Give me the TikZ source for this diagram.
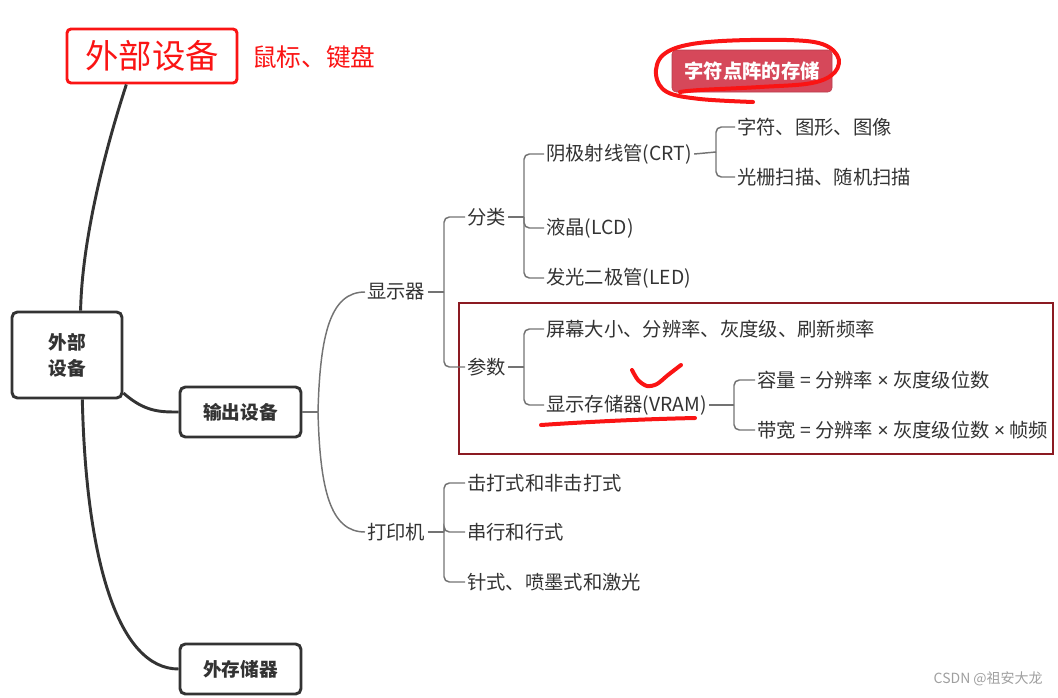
\documentclass[tikz,border=0pt]{standalone}
\usepackage{fontspec}
\setmainfont{Noto Sans CJK SC}
\newfontfamily\latinfont{Noto Sans}
\usepackage{xcolor}
\usepackage{tikz}

\definecolor{inkgray}{RGB}{51,51,51}
\definecolor{linegray}{RGB}{115,115,115}
\definecolor{penred}{RGB}{250,20,20}
\definecolor{framered}{RGB}{139,26,34}
\definecolor{tagred}{RGB}{214,72,90}

\newcommand{\ttimes}{{\latinfont\bfseries ×}}

\tikzset{
  topic/.style={draw=inkgray, line width=2.2pt, rounded corners=4pt, fill=white, text=inkgray,
    font=\fontsize{14}{19.5}\selectfont\bfseries},
  item/.style={anchor=west, inner sep=1.5pt, text=inkgray, font=\fontsize{14.5}{17}\selectfont},
  mainline/.style={draw=inkgray, line width=2.2pt},
  thinline/.style={draw=linegray, line width=1.1pt, rounded corners=4pt},
  pen/.style={draw=penred, line width=3pt, line cap=round, line join=round},
}

\begin{document}
\begin{tikzpicture}[x=0.75pt, y=-0.75pt]
\useasboundingbox (0,0) rectangle (1058,697);

% Title
\node[draw=penred, line width=2.2pt, rounded corners=3pt, minimum width=127.5pt, minimum height=40.5pt,
  text=penred, font=\fontsize{25}{30}\selectfont] (title) at (152,56) {外部设备};
\node[anchor=west, inner sep=0pt, text=penred, font=\fontsize{18.5}{22}\selectfont] (mouse) at (252,57) {鼠标、键盘};

% Tag
\node[fill=tagred, draw=tagred!85!black, rounded corners=3pt, minimum width=120pt, minimum height=31.5pt,
  text=white, font=\fontsize{14.5}{17}\selectfont\bfseries] (tag) at (752,71) {字符点阵的存储};

% Main topics
\node[topic, minimum width=82.5pt, minimum height=64.5pt, align=center] (hub) at (67,355) {外部\\设备};
\node[topic, minimum width=90.75pt, minimum height=37.5pt] (output) at (240.5,412) {输出设备};
\node[topic, minimum width=90.75pt, minimum height=37.5pt] (storage) at (240.5,669) {外存储器};

% Display
\node[item] (display) at (365,292) {显示器};
\node[item] (classify) at (465,217) {分类};
\node[item] (crt) at (544,154) {阴极射线管(CRT)};
\node[item] (lcd) at (544,228) {液晶(LCD)};
\node[item] (led) at (544,278) {发光二极管(LED)};
\node[item] (graphics) at (735,127) {字符、图形、图像};
\node[item] (scan) at (735,177) {光栅扫描、随机扫描};
\node[item] (param) at (465,367) {参数};
\node[item] (screen) at (544,329) {屏幕大小、分辨率、灰度级、刷新频率};
\node[item] (vram) at (544,405) {显示存储器(VRAM)};
\node[item] (capacity) at (755,380) {容量 = 分辨率 \ttimes{} 灰度级位数};
\node[item] (bandwidth) at (755,430) {带宽 = 分辨率 \ttimes{} 灰度级位数 \ttimes{} 帧频};

% Printer
\node[item] (printer) at (365,532) {打印机};
\node[item] (impact) at (465,483) {击打式和非击打式};
\node[item] (serial) at (465,532) {串行和行式};
\node[item] (inkjet) at (465,582) {针式、喷墨式和激光};

% Junctions
\coordinate (jout) at (318,412);
\coordinate (jdisp) at (444,292);
\coordinate (jclass) at (524,217);
\coordinate (jcrt) at (716,152);
\coordinate (jparam) at (524,367);
\coordinate (jvram) at (734,405);
\coordinate (jprint) at (444,532);

% Parameter frame
\draw[framered, line width=1.5pt] (459,303) rectangle (1053,454);

% Main curves
\draw[mainline] (title.228) .. controls (105,150) and (82,240) .. (hub.73);
\draw[mainline] (hub.-34) .. controls (145,412) and (160,412) .. (output.west);
\draw[mainline] (hub.-71) .. controls (86,560) and (118,669) .. (storage.west);

% Branches
\draw[thinline] (output.east) -- (jout);
\draw[thinline] (jout) .. controls (320,335) and (330,292) .. (display.west);
\draw[thinline] (jout) .. controls (320,489) and (330,532) .. (printer.west);

\draw[thinline] (display.east) -- (jdisp);
\foreach \leaf in {classify,param} \draw[thinline] (jdisp) |- (\leaf.west);

\draw[thinline] (classify.east) -- (jclass);
\foreach \leaf in {crt,lcd,led} \draw[thinline] (jclass) |- (\leaf.west);

\draw[thinline] (crt.east) -- (jcrt);
\foreach \leaf in {graphics,scan} \draw[thinline] (jcrt) |- (\leaf.west);

\draw[thinline] (param.east) -- (jparam);
\foreach \leaf in {screen,vram} \draw[thinline] (jparam) |- (\leaf.west);

\draw[thinline] (vram.east) -- (jvram);
\foreach \leaf in {capacity,bandwidth} \draw[thinline] (jvram) |- (\leaf.west);

\draw[thinline] (printer.east) -- (jprint);
\foreach \leaf in {impact,serial,inkjet} \draw[thinline] (jprint) |- (\leaf.west);

% Pen marks
\draw[pen] plot[smooth, tension=0.6] coordinates {(753,102) (700,99) (667,92) (656,75) (663,55) (692,44)
  (750,40) (814,42) (837,55) (835,72) (812,83) (760,87) (700,90) (680,92)};
\draw[pen] plot[smooth, tension=0.5] coordinates {(632,370) (638,380) (647,386) (657,384) (668,375) (681,365)};
\draw[pen] (541,425) .. controls (600,421) and (650,419) .. (695,418);

% Watermark
\node[anchor=east, inner sep=0pt, text=gray!75, font=\fontsize{10.5}{12}\selectfont] (credit) at (1043,679) {CSDN @祖安大龙};

\end{tikzpicture}
\end{document}
